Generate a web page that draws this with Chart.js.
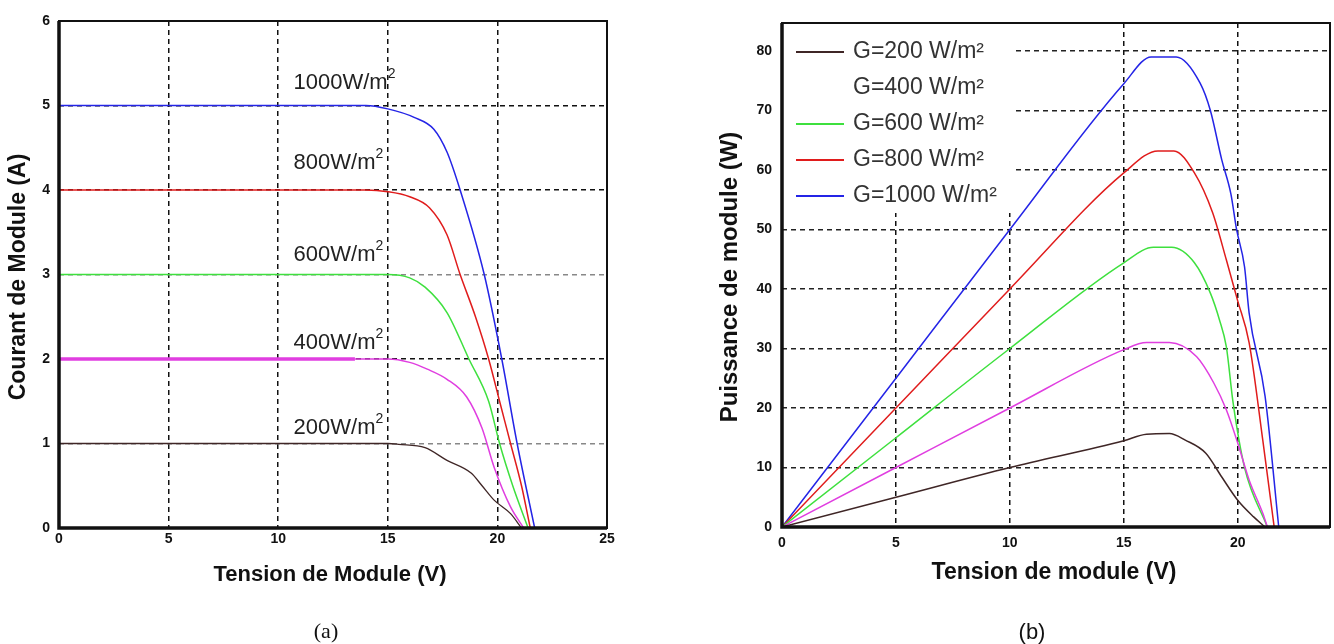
<!DOCTYPE html>
<html lang="fr">
<head>
<meta charset="UTF-8">
<title>Caractéristiques I-V et P-V du module</title>
<script src="https://cdn.jsdelivr.net/npm/chart.js"></script>
<style>
  body { margin: 0; background: #fff; width: 1334px; height: 644px; position: relative; overflow: hidden; }
  .box { position: absolute; top: 0; height: 644px; }
  #boxA { left: 0; width: 660px; }
  #boxB { left: 660px; width: 674px; }
</style>
</head>
<body>
<div class="box" id="boxA"><canvas id="chartA"></canvas></div>
<div class="box" id="boxB"><canvas id="chartB"></canvas></div>
<script>
// ---- (a) courant / tension ----
const vTicksA = [0, 5, 10, 15, 20, 25];
const iTicksA = [0, 1, 2, 3, 4, 5, 6];

const v200a = [0, 5, 10, 15, 15.5, 16.7, 17.7, 18.8, 19.3, 19.85, 20.6, 21.1];
const i200a = [1, 1, 1, 1, 0.99, 0.95, 0.8, 0.65, 0.5, 0.33, 0.17, 0];
const v400a = [0, 5, 10, 13.5, 15, 16, 16.8, 17.7, 18.6, 19.3, 19.85, 20.6, 21.2];
const i400a = [2, 2, 2, 2, 2, 1.96, 1.88, 1.76, 1.55, 1.18, 0.72, 0.25, 0];
const v600a = [0, 5, 10, 15, 16, 16.7, 17.7, 18.7, 19.6, 20.1, 20.7, 21.4];
const i600a = [3, 3, 3, 3, 2.96, 2.85, 2.55, 2.0, 1.5, 1.0, 0.5, 0];
const v800a = [0, 5, 10, 14, 15, 16, 16.9, 17.7, 18.3, 19.0, 19.6, 20.1, 20.6, 21.1, 21.5];
const i800a = [4, 4, 4, 4, 3.98, 3.92, 3.79, 3.47, 3.0, 2.5, 2.0, 1.5, 1.0, 0.5, 0];
const v1000a = [0, 5, 10, 14, 15, 16.2, 17.1, 17.7, 18.3, 19.4, 20.2, 20.9, 21.7];
const i1000a = [5, 5, 5, 5, 4.96, 4.86, 4.72, 4.45, 4.0, 3.0, 2.0, 1.0, 0];

const curveNamesA = ['200W/m', '400W/m', '600W/m', '800W/m', '1000W/m'];

// ---- (b) puissance / tension ----
const vTicksB = [0, 5, 10, 15, 20];
const pTicksB = [0, 10, 20, 30, 40, 50, 60, 70, 80];

const v200b = [0, 5, 10, 15, 16, 17, 17.7, 18.6, 19.3, 20, 20.7, 21.2];
const p200b = [0, 5, 10, 14.5, 15.6, 15.7, 14.6, 12.4, 8.4, 4.5, 1.7, 0];
const v400b = [0, 5, 10, 15, 16, 17, 18.2, 18.95, 19.5, 20, 20.5, 21.1, 21.3];
const p400b = [0, 10, 20, 29.8, 31, 31, 28.6, 24.2, 19.7, 14.1, 7.9, 2.3, 0];
const v600b = [0, 5, 10, 15, 16.3, 17.1, 18.1, 18.8, 19.2, 19.5, 19.8, 20.3, 21.3];
const p600b = [0, 15, 30, 44.4, 47, 47, 44.4, 39.3, 34.8, 30.3, 20.8, 10, 0];
const v800b = [0, 5, 10, 15, 16.5, 17.2, 18.1, 18.9, 19.5, 20, 20.5, 21.1, 21.6];
const p800b = [0, 20, 40, 59.5, 63.2, 63.2, 59.5, 52.8, 44.9, 38, 31, 14.6, 0];
const v1000b = [0, 1, 2, 5, 10, 15, 16.2, 16.6, 17.3, 18.35, 18.8, 19.3, 19.7, 19.95, 20.3, 20.5, 21.2, 21.8];
const p1000b = [0, 5, 10, 25, 50, 74.5, 79, 79, 79, 74.6, 70, 61.7, 56, 50, 43.7, 36, 22, 0];

const legendNamesB = ['G=200 W/m²', 'G=400 W/m²', 'G=600 W/m²', 'G=800 W/m²', 'G=1000 W/m²'];

const colors = ['#3f2626', '#e03ee0', '#3ee03e', '#e01c1c', '#2424e6'];

function pts(xs, ys) {
    return xs.map((x, i) => ({ x: x, y: ys[i] }));
}

// cadre noir autour de la zone de tracé
const framePlugin = {
    id: 'frame',
    afterDatasetsDraw(chart) {
        const { ctx, chartArea: a } = chart;
        ctx.save();
        ctx.strokeStyle = '#111';
        ctx.lineWidth = 2;
        ctx.strokeRect(a.left, a.top, a.right - a.left, a.bottom - a.top);
        ctx.lineWidth = 3.5;
        ctx.beginPath();
        ctx.moveTo(a.left, a.top);
        ctx.lineTo(a.left, a.bottom);
        ctx.lineTo(a.right, a.bottom);
        ctx.stroke();
        ctx.restore();
    }
};

// titres d'axes et légende (a)/(b)
const textPlugin = {
    id: 'texts',
    afterDraw(chart, args, opts) {
        const ctx = chart.ctx;
        (opts.items || []).forEach(t => {
            ctx.save();
            ctx.translate(t.x, t.y);
            if (t.rotate) ctx.rotate(t.rotate);
            ctx.font = t.font;
            ctx.fillStyle = '#111';
            ctx.textAlign = 'center';
            ctx.textBaseline = 'middle';
            ctx.fillText(t.text, 0, 0);
            ctx.restore();
        });
    }
};

// étiquettes des courbes (a), placées en coordonnées de données
const curveLabelPlugin = {
    id: 'curveLabels',
    afterDatasetsDraw(chart, args, opts) {
        if (!opts.items) return;
        const ctx = chart.ctx;
        const xs = chart.scales.x, ys = chart.scales.y;
        ctx.save();
        ctx.fillStyle = '#222';
        ctx.textBaseline = 'middle';
        ctx.textAlign = 'left';
        opts.items.forEach(l => {
            const px = xs.getPixelForValue(l.v);
            const py = ys.getPixelForValue(l.i);
            ctx.font = '22px "Liberation Sans", Arial, sans-serif';
            ctx.fillText(l.text, px, py);
            const w = ctx.measureText(l.text).width;
            ctx.font = '14px "Liberation Sans", Arial, sans-serif';
            ctx.fillText('2', px + w, py - 9);
        });
        ctx.restore();
    }
};

// légende (b) : fond blanc sous les courbes, texte par-dessus
const legendPlugin = {
    id: 'boxLegend',
    beforeDatasetsDraw(chart, args, opts) {
        if (!opts.show) return;
        const ctx = chart.ctx, a = chart.chartArea;
        ctx.save();
        ctx.fillStyle = '#fff';
        ctx.fillRect(a.left, a.top, 231, 190);
        ctx.restore();
    },
    afterDatasetsDraw(chart, args, opts) {
        if (!opts.show) return;
        const ctx = chart.ctx;
        const a = chart.chartArea;
        ctx.save();
        ctx.font = '23px "Liberation Sans", Arial, sans-serif';
        ctx.textBaseline = 'middle';
        ctx.fillStyle = '#333';
        chart.data.datasets.forEach((ds, k) => {
            const y = a.top + 29 + k * 36;
            if (!ds.noLegendLine) {
                ctx.strokeStyle = ds.borderColor;
                ctx.lineWidth = 2;
                ctx.beginPath();
                ctx.moveTo(a.left + 14, y);
                ctx.lineTo(a.left + 62, y);
                ctx.stroke();
            }
            ctx.fillText(ds.label, a.left + 71, y);
        });
        ctx.restore();
    }
};

const tickFont = { family: '"Liberation Sans", Arial, sans-serif', size: 14, weight: 'bold' };

function gridColorA(ctx) {
    const v = ctx.tick && ctx.tick.value;
    return (v === 1 || v === 3) ? '#888' : '#111';
}

// ---- graphique (a) ----
new Chart(document.getElementById('chartA'), {
    type: 'line',
    data: {
        datasets: [
            { label: curveNamesA[0], data: pts(v200a, i200a), borderColor: colors[0], borderWidth: 1.3 },
            {
                label: curveNamesA[1], data: pts(v400a, i400a), borderColor: colors[1], borderWidth: 1.5,
                segment: { borderWidth: c => (c.p1.parsed.x <= 13.5 ? 3.5 : 1.5) }
            },
            { label: curveNamesA[2], data: pts(v600a, i600a), borderColor: colors[2], borderWidth: 1.5 },
            { label: curveNamesA[3], data: pts(v800a, i800a), borderColor: colors[3], borderWidth: 1.5 },
            { label: curveNamesA[4], data: pts(v1000a, i1000a), borderColor: colors[4], borderWidth: 1.5 }
        ]
    },
    options: {
        responsive: true,
        maintainAspectRatio: false,
        animation: false,
        layout: { padding: { top: 21, right: 53, bottom: 76, left: 0 } },
        elements: { point: { radius: 0 }, line: { cubicInterpolationMode: 'monotone' } },
        scales: {
            x: {
                type: 'linear', min: 0, max: 25,
                afterFit(s) { s.height = 40; },
                afterBuildTicks(s) { s.ticks = vTicksA.map(v => ({ value: v })); },
                ticks: { font: tickFont, color: '#111', padding: 3, maxRotation: 0 },
                grid: { color: '#111', lineWidth: 1.5, drawTicks: false },
                border: { display: false, dash: [5, 4] }
            },
            y: {
                min: 0, max: 6,
                afterFit(s) { s.width = 59; },
                afterBuildTicks(s) { s.ticks = iTicksA.map(v => ({ value: v })); },
                ticks: { font: tickFont, color: '#111', padding: 9 },
                grid: { color: gridColorA, lineWidth: 1.5, drawTicks: false },
                border: { display: false, dash: [5, 4] }
            }
        },
        plugins: {
            legend: { display: false },
            tooltip: { enabled: false },
            curveLabels: {
                items: [
                    { text: curveNamesA[4], v: 10.7, i: 5.27 },
                    { text: curveNamesA[3], v: 10.7, i: 4.32 },
                    { text: curveNamesA[2], v: 10.7, i: 3.23 },
                    { text: curveNamesA[1], v: 10.7, i: 2.19 },
                    { text: curveNamesA[0], v: 10.7, i: 1.18 }
                ]
            },
            texts: {
                items: [
                    { text: 'Courant de Module (A)', x: 19, y: 277, rotate: -Math.PI / 2, font: 'bold 23px "Liberation Sans", Arial, sans-serif' },
                    { text: 'Tension de Module (V)', x: 330, y: 575, font: 'bold 22px "Liberation Sans", Arial, sans-serif' },
                    { text: '(a)', x: 326, y: 632, font: '22px "Liberation Serif", "Times New Roman", serif' }
                ]
            }
        }
    },
    plugins: [framePlugin, curveLabelPlugin, textPlugin]
});

// ---- graphique (b) ----
new Chart(document.getElementById('chartB'), {
    type: 'line',
    data: {
        datasets: [
            { label: legendNamesB[0], data: pts(v200b, p200b), borderColor: colors[0], borderWidth: 1.5 },
            { label: legendNamesB[1], data: pts(v400b, p400b), borderColor: colors[1], borderWidth: 1.5, noLegendLine: true },
            { label: legendNamesB[2], data: pts(v600b, p600b), borderColor: colors[2], borderWidth: 1.5 },
            { label: legendNamesB[3], data: pts(v800b, p800b), borderColor: colors[3], borderWidth: 1.5 },
            { label: legendNamesB[4], data: pts(v1000b, p1000b), borderColor: colors[4], borderWidth: 1.5 }
        ]
    },
    options: {
        responsive: true,
        maintainAspectRatio: false,
        animation: false,
        layout: { padding: { top: 23, right: 4, bottom: 77, left: 0 } },
        elements: { point: { radius: 0 }, line: { cubicInterpolationMode: 'monotone' } },
        scales: {
            x: {
                type: 'linear', min: 0, max: 24.05,
                afterFit(s) { s.height = 40; },
                afterBuildTicks(s) { s.ticks = vTicksB.map(v => ({ value: v })); },
                ticks: { font: tickFont, color: '#111', padding: 8, maxRotation: 0 },
                grid: { color: '#111', lineWidth: 1.5, drawTicks: false },
                border: { display: false, dash: [5, 4] }
            },
            y: {
                min: 0, max: 84.7,
                afterFit(s) { s.width = 122; },
                afterBuildTicks(s) { s.ticks = pTicksB.map(v => ({ value: v })); },
                ticks: { font: tickFont, color: '#111', padding: 10 },
                grid: { color: '#222', lineWidth: 1.5, drawTicks: false },
                border: { display: false, dash: [5, 4] }
            }
        },
        plugins: {
            legend: { display: false },
            tooltip: { enabled: false },
            boxLegend: { show: true },
            texts: {
                items: [
                    { text: 'Puissance de module (W)', x: 70, y: 277, rotate: -Math.PI / 2, font: 'bold 24px "Liberation Sans", Arial, sans-serif' },
                    { text: 'Tension de module (V)', x: 394, y: 573, font: 'bold 23px "Liberation Sans", Arial, sans-serif' },
                    { text: '(b)', x: 372, y: 633, font: '22px "Liberation Sans", Arial, sans-serif' }
                ]
            }
        }
    },
    plugins: [framePlugin, legendPlugin, textPlugin]
});
</script>
</body>
</html>
